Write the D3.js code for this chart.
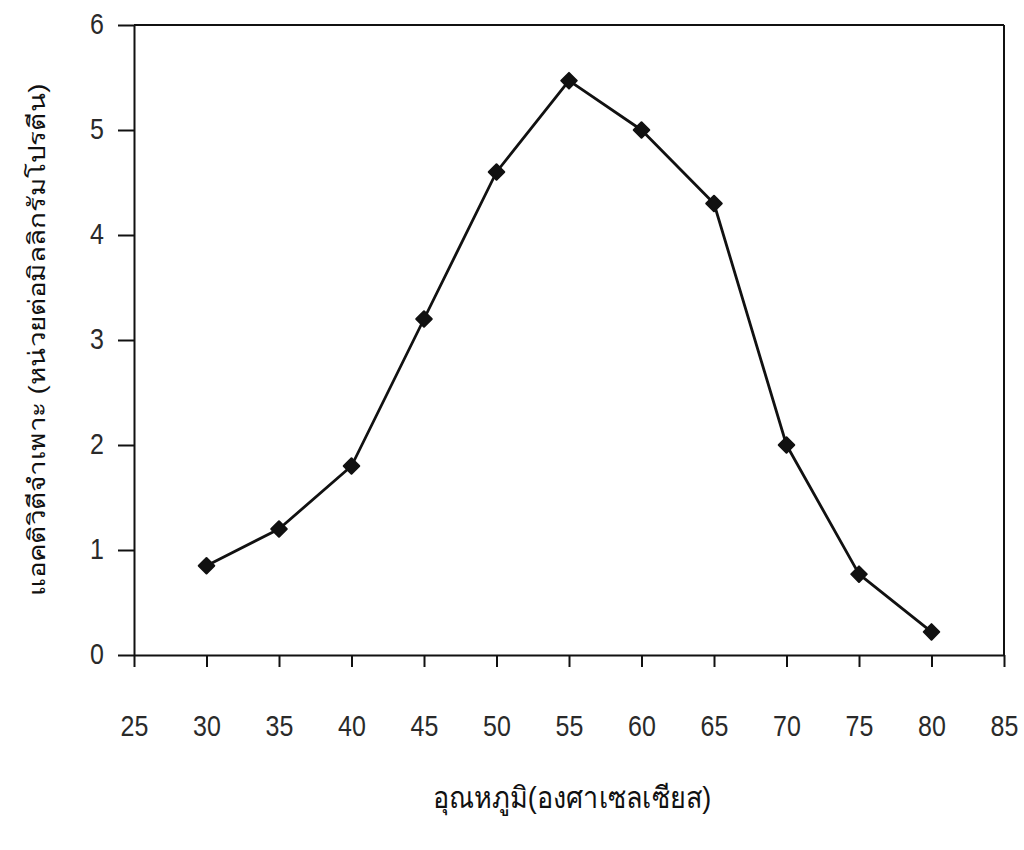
<!DOCTYPE html>
<html>
<head>
<meta charset="utf-8">
<script src="https://cdn.jsdelivr.net/npm/d3@7"></script>
<style>
  html, body { margin: 0; padding: 0; background: #fff; }
  svg text { font-family: "Liberation Sans", Arial, sans-serif; }
</style>
</head>
<body>
<div id="chart"></div>
<script>
// Specific activity vs temperature
const temps = [30, 35, 40, 45, 50, 55, 60, 65, 70, 75, 80];
const activity = [0.85, 1.2, 1.8, 3.2, 4.6, 5.47, 5.0, 4.3, 2.0, 0.77, 0.22];
const xTicks = [25, 30, 35, 40, 45, 50, 55, 60, 65, 70, 75, 80, 85];
const yTicks = [0, 1, 2, 3, 4, 5, 6];
const xTitle = "อุณหภูมิ(องศาเซลเซียส)";
const yTitle = "แอคติวิตีจำเพาะ (หน่วยต่อมิลลิกรัมโปรตีน)";

const W = 1024, H = 850;
const m = { left: 134, right: 20, top: 25, bottom: 195 };
const stretch = 1.18; // scanned original is a bit taller than wide

const svg = d3.select("#chart").append("svg")
  .attr("width", W).attr("height", H);

const x = d3.scaleLinear().domain([25, 85]).range([m.left, W - m.right]);
const y = d3.scaleLinear().domain([0, 6]).range([H - m.bottom, m.top]);

const ink = "#111";

// frame (top + right)
svg.append("line")
  .attr("x1", x(25)).attr("x2", x(85)).attr("y1", y(6)).attr("y2", y(6))
  .attr("stroke", ink).attr("stroke-width", 2);
svg.append("line")
  .attr("x1", x(85)).attr("x2", x(85)).attr("y1", y(6)).attr("y2", y(0))
  .attr("stroke", ink).attr("stroke-width", 2);

// x axis
const xAxis = svg.append("g")
  .attr("transform", `translate(0,${y(0)})`)
  .call(d3.axisBottom(x).tickValues(xTicks).tickSize(12).tickSizeOuter(0));
// y axis
const yAxis = svg.append("g")
  .attr("transform", `translate(${x(25)},0)`)
  .call(d3.axisLeft(y).tickValues(yTicks).tickFormat(d3.format("d")).tickSize(16).tickSizeOuter(0));

[xAxis, yAxis].forEach(g => {
  g.select(".domain").attr("stroke", ink).attr("stroke-width", 2);
  g.selectAll(".tick line").attr("stroke", ink).attr("stroke-width", 2);
  g.selectAll(".tick text").attr("fill", "#2a2a2a").attr("font-size", 25)
    .attr("x", 0).attr("y", 0).attr("dy", null);
});
xAxis.selectAll(".tick text").attr("transform", `translate(0,81) scale(1,${stretch})`);
yAxis.selectAll(".tick text").attr("transform", `translate(-30,8) scale(1,${stretch})`);

// line
const pts = temps.map((t, i) => [t, activity[i]]);
svg.append("path")
  .datum(pts)
  .attr("fill", "none").attr("stroke", ink).attr("stroke-width", 2.8)
  .attr("stroke-linejoin", "round")
  .attr("d", d3.line().x(d => x(d[0])).y(d => y(d[1])));

// diamond markers
svg.append("g").selectAll("path")
  .data(pts)
  .join("path")
  .attr("transform", d => `translate(${x(d[0])},${y(d[1])}) rotate(45)`)
  .attr("d", d3.symbol(d3.symbolSquare, 121)())
  .attr("fill", ink).attr("stroke", ink).attr("stroke-width", 2)
  .attr("stroke-linejoin", "round");

// titles
svg.append("text")
  .attr("transform", `translate(572,808) scale(1,1.1)`)
  .attr("text-anchor", "middle").attr("font-size", 27).attr("fill", ink)
  .text(xTitle);

svg.append("text")
  .attr("transform", `translate(45,340) rotate(-90) scale(${stretch},1)`)
  .attr("text-anchor", "middle").attr("font-size", 23.5).attr("fill", ink)
  .text(yTitle);
</script>
</body>
</html>
